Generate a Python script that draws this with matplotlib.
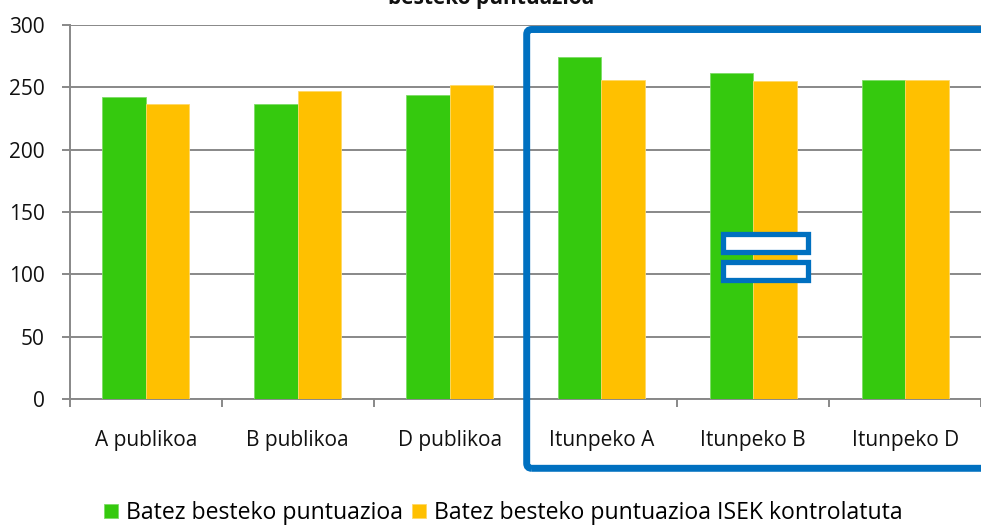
import numpy as np
import matplotlib
matplotlib.use("Agg")
import matplotlib.pyplot as plt
from matplotlib.patches import FancyBboxPatch
from matplotlib.transforms import IdentityTransform

categories = ["A publikoa", "B publikoa", "D publikoa",
              "Itunpeko A", "Itunpeko B", "Itunpeko D"]
mean_score = [242, 237, 244, 274, 261.5, 256]
mean_score_isek = [237, 247, 252, 256, 255, 256]
series_names = ["Batez besteko puntuazioa",
                "Batez besteko puntuazioa ISEK kontrolatuta"]
y_ticks = [0, 50, 100, 150, 200, 250, 300]

GREEN = "#35C90E"
YELLOW = "#FFC000"
GRID = "#888888"
BLUE = "#0070C0"

plt.rcParams["font.family"] = ["Open Sans", "DejaVu Sans"]

W, H = 981, 527
fig = plt.figure(figsize=(W / 100, H / 100), dpi=100)
ax = fig.add_axes([70 / W, 1 - 399 / H, 1 - 70 / W, (399 - 25) / H])

x = np.arange(len(categories))
bw = 0.286
b1 = ax.bar(x - bw / 2, mean_score, bw, color=GREEN, edgecolor="#7ddc66",
            linewidth=0.6, label=series_names[0], zorder=3)
b2 = ax.bar(x + bw / 2, mean_score_isek, bw, color=YELLOW, edgecolor="#ffd966",
            linewidth=0.6, label=series_names[1], zorder=3)

ax.set_xlim(-0.5, len(categories) - 0.5)
ax.set_ylim(0, 300)
ax.set_yticks(y_ticks)
ax.set_xticks(x)
ax.set_xticklabels(categories)
ax.set_xticks(np.arange(-0.5, len(categories), 1.0), minor=True)

ax.yaxis.grid(True, color=GRID, linewidth=1.4, zorder=0)
ax.set_axisbelow(True)
for s in ["top", "right"]:
    ax.spines[s].set_visible(False)
for s in ["left", "bottom"]:
    ax.spines[s].set_color(GRID)
    ax.spines[s].set_linewidth(1.4)

ax.tick_params(axis="y", length=6, width=1.4, color=GRID, pad=12,
               labelsize=15, labelcolor="#111111")
ax.tick_params(axis="x", which="major", length=0, pad=22,
               labelsize=15, labelcolor="#111111")
ax.tick_params(axis="x", which="minor", length=6, width=1.4, color=GRID)

# title, cut by the top edge like in the original
fig.text(491 / W, 1 - 4 / H, "besteko puntuazioa", ha="center",
         va="baseline", fontsize=15, fontweight="bold", color="#111111")

fig.legend(handles=[b1, b2], loc="center", bbox_to_anchor=(503 / W, 1 - 513 / H),
           ncol=2, frameon=False, fontsize=16.6, handlelength=0.6,
           handleheight=0.6, handletextpad=0.35, columnspacing=0.4,
           borderpad=0)

# blue frame around the Itunpeko group and the "=" sign
ident = IdentityTransform()
fig.patches.append(FancyBboxPatch((526.7, H - 468.3), 500, 438.8,
                                  boxstyle="round,pad=0,rounding_size=5",
                                  fill=False, edgecolor=BLUE, linewidth=5,
                                  transform=ident, figure=fig))
for top, bot in [(233.7, 252.3), (261.7, 280.0)]:
    fig.patches.append(FancyBboxPatch((723.3, H - bot), 85, bot - top,
                                      boxstyle="square,pad=0",
                                      facecolor="white", edgecolor=BLUE,
                                      linewidth=3.8, transform=ident,
                                      figure=fig))

fig.savefig("out.png", dpi=100)
